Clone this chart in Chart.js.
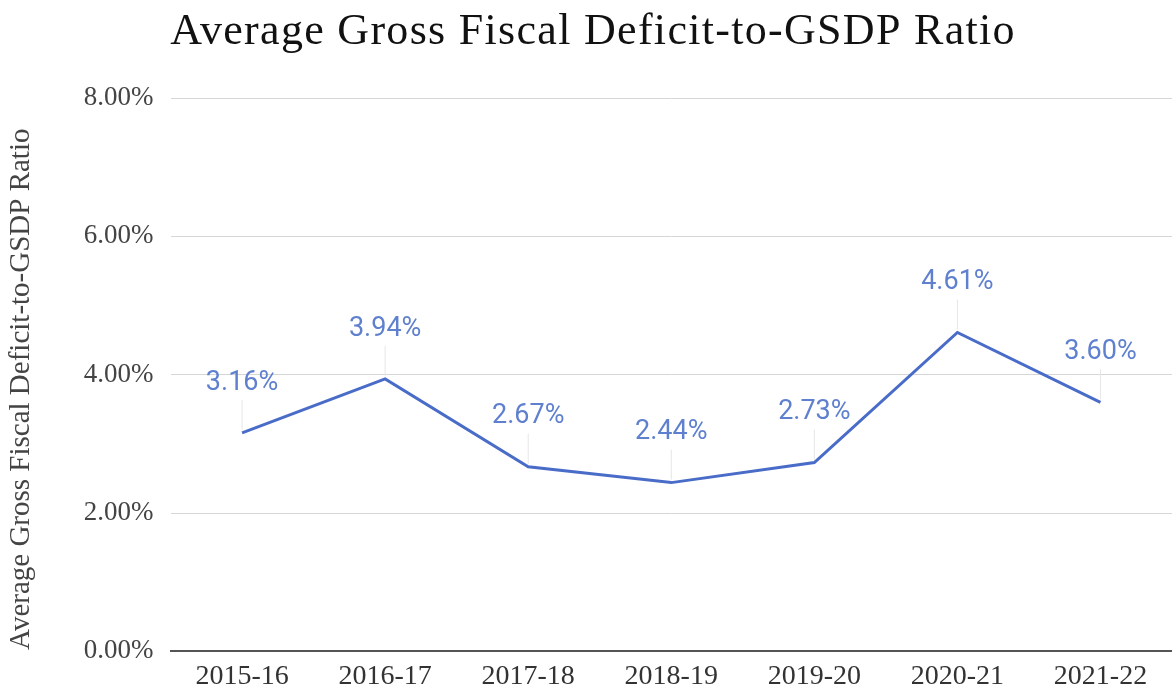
<!DOCTYPE html>
<html>
<head>
<meta charset="utf-8">
<script src="https://cdn.jsdelivr.net/npm/chart.js@4.4.0/dist/chart.umd.min.js"></script>
<style>
  body { margin: 0; background: #fff; }
  canvas { display: block; }
</style>
</head>
<body>
<canvas id="deficitChart" width="1172" height="692"></canvas>
<script>
// Chart data
const years = ['2015-16', '2016-17', '2017-18', '2018-19', '2019-20', '2020-21', '2021-22'];
const deficitRatio = [3.16, 3.94, 2.67, 2.44, 2.73, 4.61, 3.60];
const yTicks = [0, 2, 4, 6, 8];
const chartTitle = 'Average Gross Fiscal Deficit-to-GSDP Ratio';

const serif = "'Liberation Serif', 'Times New Roman', serif";

// heading, drawn by hand so it can be slightly letter-spaced like the original
const spacedTitle = {
    id: 'spacedTitle',
    afterDraw(chart) {
        const ctx = chart.ctx;
        ctx.save();
        ctx.font = '44px ' + serif;
        ctx.letterSpacing = '1.3px';
        ctx.fillStyle = '#111';
        ctx.textAlign = 'center';
        ctx.textBaseline = 'alphabetic';
        ctx.fillText(chartTitle, chart.width / 2 + 7, 44);
        ctx.restore();
    }
};

// value labels above each point, with the faint leader line
const pointLabels = {
    id: 'pointLabels',
    afterDatasetsDraw(chart) {
        const ctx = chart.ctx;
        const meta = chart.getDatasetMeta(0);
        ctx.save();
        meta.data.forEach((pt, i) => {
            const labelY = pt.y - 50;
            ctx.strokeStyle = '#e6e6e6';
            ctx.lineWidth = 1;
            ctx.beginPath();
            ctx.moveTo(pt.x, labelY + 17);
            ctx.lineTo(pt.x, pt.y - 3);
            ctx.stroke();
            ctx.font = "27px Roboto, 'Noto Sans', sans-serif";
            ctx.fillStyle = '#5f80cf';
            ctx.textAlign = 'center';
            ctx.textBaseline = 'middle';
            ctx.fillText(deficitRatio[i].toFixed(2) + '%', pt.x, labelY);
        });
        ctx.restore();
    }
};

new Chart(document.getElementById('deficitChart').getContext('2d'), {
    type: 'line',
    data: {
        labels: years,
        datasets: [{
            data: deficitRatio,
            borderColor: '#4a6cc9',
            borderWidth: 3,
            pointRadius: 0,
            tension: 0,
            fill: false
        }]
    },
    options: {
        responsive: false,
        animation: false,
        layout: { padding: { left: 4, right: 0, top: 98, bottom: -9 } },
        plugins: {
            legend: { display: false },
            tooltip: { enabled: false },
            title: { display: false }
        },
        scales: {
            x: {
                offset: true,
                grid: { display: false, drawTicks: false },
                border: { display: true, color: '#555', width: 2 },
                ticks: {
                    color: '#333',
                    padding: 8,
                    font: { family: serif, size: 28 }
                }
            },
            y: {
                min: 0,
                max: 8,
                afterBuildTicks: axis => { axis.ticks = yTicks.map(v => ({ value: v })); },
                grid: { color: '#d6d6d6', lineWidth: 1, drawTicks: false },
                border: { display: false },
                ticks: {
                    color: '#444',
                    padding: 17,
                    font: { family: serif, size: 27 },
                    callback: v => v.toFixed(2) + '%'
                },
                title: {
                    display: true,
                    // trailing spaces nudge the rotated title a little lower, as in the original
                    text: chartTitle + '\u00a0\u00a0\u00a0\u00a0',
                    color: '#444',
                    font: { family: serif, size: 29 },
                    padding: { top: 0, bottom: 28 }
                }
            }
        }
    },
    plugins: [pointLabels, spacedTitle]
});
</script>
</body>
</html>
